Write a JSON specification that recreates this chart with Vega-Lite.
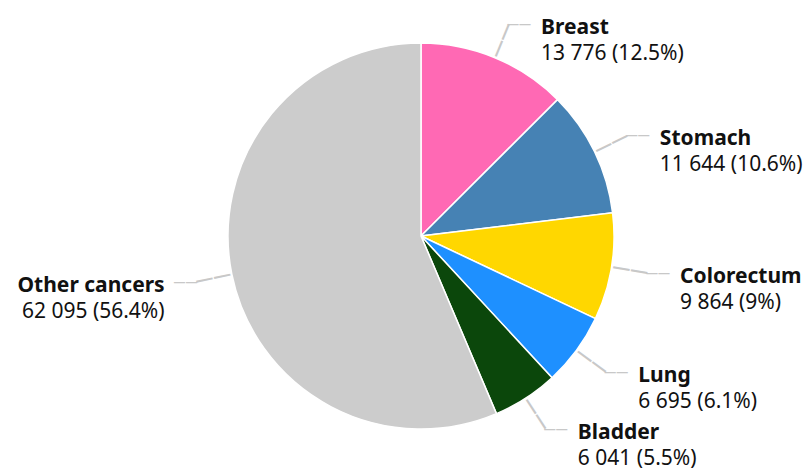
{
  "$schema": "https://vega.github.io/schema/vega-lite/v6.json",
  "width": 842,
  "height": 472,
  "autosize": {"type": "none"},
  "padding": 0,
  "background": "white",
  "config": {"view": {"stroke": null}, "font": "Noto Sans"},
  "data": {
    "values": [
      {"rank": 1, "site": "Breast", "cases": 13776, "valueLabel": "13 776 (12.5%)"},
      {"rank": 2, "site": "Stomach", "cases": 11644, "valueLabel": "11 644 (10.6%)"},
      {"rank": 3, "site": "Colorectum", "cases": 9864, "valueLabel": "9 864 (9%)"},
      {"rank": 4, "site": "Lung", "cases": 6695, "valueLabel": "6 695 (6.1%)"},
      {"rank": 5, "site": "Bladder", "cases": 6041, "valueLabel": "6 041 (5.5%)"},
      {"rank": 6, "site": "Other cancers", "cases": 62095, "valueLabel": "62 095 (56.4%)"}
    ]
  },
  "encoding": {
    "theta": {"field": "cases", "type": "quantitative", "stack": true},
    "order": {"field": "rank", "type": "quantitative"}
  },
  "layer": [
    {
      "mark": {"type": "arc", "outerRadius": 193, "stroke": "white", "strokeWidth": 1.5},
      "encoding": {
        "color": {
          "field": "site",
          "type": "nominal",
          "scale": {
            "domain": ["Breast", "Stomach", "Colorectum", "Lung", "Bladder", "Other cancers"],
            "range": ["#ff69b4", "#4682b4", "#ffd700", "#1e90ff", "#0b470b", "#cccccc"]
          },
          "legend": null
        }
      }
    },
    {
      "mark": {
        "type": "text",
        "radius": 212,
        "fontSize": 18,
        "fontWeight": "bold",
        "color": "#c8c8c8",
        "baseline": "middle",
        "align": "center",
        "text": "——",
        "angle": {"expr": "(scale('theta', datum.cases_start) + scale('theta', datum.cases_end)) * 90 / PI - 90"}
      }
    },
    {
      "mark": {
        "type": "text",
        "radius": 230,
        "fontSize": 12,
        "fontWeight": "bold",
        "color": "#c8c8c8",
        "baseline": "middle",
        "text": "——",
        "align": {"expr": "datum.site === 'Other cancers' ? 'right' : 'left'"},
        "dx": {"expr": "datum.site === 'Other cancers' ? 2 : -2"},
        "dy": 0
      }
    },
    {
      "mark": {
        "type": "text",
        "radius": 230,
        "fontSize": 21,
        "fontWeight": "bold",
        "color": "#111111",
        "baseline": "middle",
        "align": {"expr": "datum.site === 'Other cancers' ? 'right' : 'left'"},
        "dx": {"expr": "datum.site === 'Other cancers' ? -31 : 32"},
        "dy": 4
      },
      "encoding": {"text": {"field": "site"}}
    },
    {
      "mark": {
        "type": "text",
        "radius": 230,
        "fontSize": 21,
        "color": "#111111",
        "baseline": "middle",
        "align": {"expr": "datum.site === 'Other cancers' ? 'right' : 'left'"},
        "dx": {"expr": "datum.site === 'Other cancers' ? -31 : 32"},
        "dy": 30
      },
      "encoding": {"text": {"field": "valueLabel"}}
    }
  ]
}
